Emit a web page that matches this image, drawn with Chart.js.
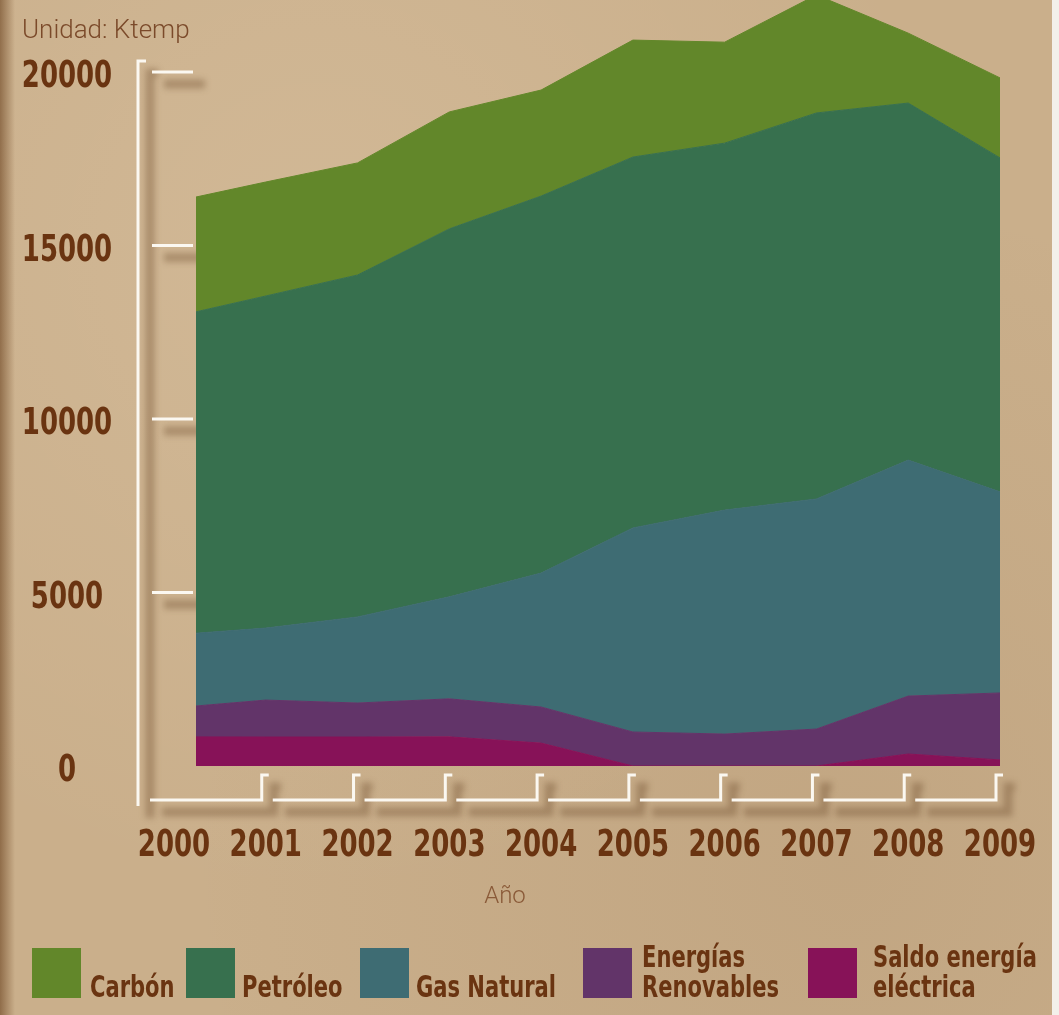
<!DOCTYPE html>
<html lang="es">
<head>
<meta charset="UTF-8">
<title>Consumo de energía primaria 2000-2009</title>
<style>
    html, body {
        margin: 0;
        padding: 0;
    }
    body {
        width: 1059px;
        height: 1015px;
        overflow: hidden;
        background-color: #caaf8b;
        background-image:
            linear-gradient(to right, rgba(105, 65, 30, 0.6) 0px, rgba(105, 65, 30, 0) 15px),
            radial-gradient(ellipse at 30% 25%, rgba(255, 240, 215, 0.14), rgba(0, 0, 0, 0) 60%),
            radial-gradient(ellipse at 80% 85%, rgba(120, 85, 50, 0.10), rgba(0, 0, 0, 0) 55%);
    }
    .wrap {
        position: relative;
        width: 1059px;
        height: 1015px;
    }
    canvas {
        position: absolute;
        left: 0;
        top: 0;
    }
    .edge {
        position: absolute;
        right: 0;
        top: 0;
        width: 7px;
        height: 100%;
        background: #f3f0ea;
    }
</style>
</head>
<body>
<div class="wrap">
    <canvas id="energyChart" width="1059" height="1015"></canvas>
    <div class="edge"></div>
</div>

<script src="https://cdn.jsdelivr.net/npm/chart.js"></script>
<script>
    // values in Ktep
    const years = [2000, 2001, 2002, 2003, 2004, 2005, 2006, 2007, 2008, 2009];
    const carbon = [3315, 3285, 3230, 3370, 3055, 3370, 2910, 3400, 2015, 2305];
    const petroleo = [9165, 9570, 9855, 10605, 10865, 10690, 10575, 11125, 10290, 9625];
    const gasNatural = [2105, 2075, 2480, 2940, 3860, 5880, 6455, 6630, 6800, 5795];
    const renovables = [835, 1065, 980, 1095, 1040, 980, 920, 1065, 1670, 1930];
    const saldoElectrico = [840, 835, 835, 840, 660, 0, 0, 0, 345, 175];
    const yTicks = [0, 5000, 10000, 15000, 20000];

    const seriesNames = ['Carbón', 'Petróleo', 'Gas Natural', 'Energías Renovables', 'Saldo energía eléctrica'];
    const legendLines = [['Carbón'], ['Petróleo'], ['Gas Natural'], ['Energías', 'Renovables'], ['Saldo energía', 'eléctrica']];
    const seriesColors = ['#62872a', '#37704e', '#3e6c73', '#623469', '#871258'];

    const BROWN = '#6a3411';
    const NARROW = "'DejaVu Sans Condensed', 'DejaVu Sans', sans-serif";

    // the original crops the areas a little after the 2000 mark,
    // and the 2007 peak runs past the 20000 line up to the top edge
    const xMin = 2000.24;
    const yMax = 22075;

    function series(idx, values, fill) {
        return {
            label: seriesNames[idx],
            data: values.map((v, i) => ({ x: years[i], y: v })),
            backgroundColor: seriesColors[idx],
            borderColor: seriesColors[idx],
            borderWidth: 1,
            pointRadius: 0,
            tension: 0,
            fill: fill
        };
    }

    // condensed bold text, squeezed sideways like the poster font
    function narrowText(ctx, text, x, y, size, align, squeeze) {
        ctx.save();
        ctx.font = 'bold ' + size + 'px ' + NARROW;
        ctx.textBaseline = 'alphabetic';
        ctx.textAlign = align;
        ctx.translate(x, y);
        ctx.scale(squeeze, 1);
        ctx.fillText(text, 0, 0);
        ctx.restore();
    }

    // white bracket axes with a soft shadow
    function strokeWithShadow(ctx, paths) {
        ctx.save();
        ctx.lineJoin = 'miter';
        ctx.lineCap = 'butt';
        ctx.filter = 'blur(3px)';
        ctx.strokeStyle = 'rgba(100, 65, 35, 0.35)';
        ctx.lineWidth = 9;
        paths.forEach(p => {
            ctx.beginPath();
            p.forEach((pt, i) => i ? ctx.lineTo(pt[0] + 12, pt[1] + 12) : ctx.moveTo(pt[0] + 12, pt[1] + 12));
            ctx.stroke();
        });
        ctx.filter = 'none';
        ctx.strokeStyle = '#fbf8f1';
        ctx.lineWidth = 3;
        paths.forEach(p => {
            ctx.beginPath();
            p.forEach((pt, i) => i ? ctx.lineTo(pt[0], pt[1]) : ctx.moveTo(pt[0], pt[1]));
            ctx.stroke();
        });
        ctx.restore();
    }

    const decorPlugin = {
        id: 'decor',
        beforeDraw(chart) {
            const { ctx, chartArea: a, scales } = chart;
            const xs = scales.x, ys = scales.y;
            const axisX = a.left - 58;
            const baseY = a.bottom + 34;
            const riseY = a.bottom + 9;
            const topY = ys.getPixelForValue(yTicks[yTicks.length - 1]) - 11;
            const paths = [];

            paths.push([[axisX + 8, topY], [axisX, topY], [axisX, baseY + 6]]);
            yTicks.filter(v => v > 0).forEach(v => {
                const py = ys.getPixelForValue(v);
                paths.push([[a.left - 44, py], [a.left - 3, py]]);
            });

            let start = axisX + 12;
            years.slice(1).forEach(yr => {
                const rx = xs.getPixelForValue(yr) - 4;
                paths.push([[start, baseY], [rx, baseY], [rx, riseY], [rx + 7, riseY]]);
                start = rx + 11;
            });
            strokeWithShadow(ctx, paths);

            ctx.save();
            ctx.fillStyle = BROWN;
            // tick labels
            yTicks.forEach(v => {
                narrowText(ctx, String(v), a.left - 129, ys.getPixelForValue(v) + 15, 38, 'center', 0.76);
            });
            years.forEach(yr => {
                narrowText(ctx, String(yr), xs.getPixelForValue(yr), a.bottom + 90, 38, 'center', 0.76);
            });

            ctx.fillStyle = '#7b4a2a';
            ctx.font = '300 26px Roboto';
            ctx.textBaseline = 'alphabetic';
            ctx.textAlign = 'left';
            ctx.fillText('Unidad: Ktemp', 22, 38);

            ctx.fillStyle = '#8a5a38';
            ctx.font = '300 24px Roboto';
            ctx.textAlign = 'center';
            ctx.fillText('Año', 505, 903);
            ctx.restore();
        },
        afterDraw(chart) {
            const { ctx } = chart;
            const boxX = [32, 186, 360, 583, 808];
            const textX = [90, 242, 416, 642, 873];
            const boxTop = 948, boxSize = 49, textBottom = 997;
            ctx.save();
            legendLines.forEach((lines, i) => {
                ctx.fillStyle = seriesColors[i];
                ctx.fillRect(boxX[i], boxTop, boxSize, boxSize + 1);
                ctx.fillStyle = BROWN;
                lines.forEach((t, j) => {
                    narrowText(ctx, t, textX[i], textBottom - (lines.length - 1 - j) * 30, 30, 'left', 0.78);
                });
            });
            ctx.restore();
        }
    };

    // stacked bottom-up: saldo, renovables, gas, petróleo, carbón
    const datasets = [
        series(4, saldoElectrico, 'origin'),
        series(3, renovables, '-1'),
        series(2, gasNatural, '-1'),
        series(1, petroleo, '-1'),
        series(0, carbon, '-1')
    ];

    new Chart(document.getElementById('energyChart'), {
        type: 'line',
        data: { datasets: datasets },
        plugins: [decorPlugin],
        options: {
            responsive: false,
            animation: false,
            devicePixelRatio: 1,
            layout: { padding: { left: 196, top: 0, right: 59, bottom: 249 } },
            plugins: {
                legend: { display: false },
                tooltip: { enabled: false }
            },
            scales: {
                x: {
                    type: 'linear',
                    display: false,
                    min: xMin,
                    max: years[years.length - 1]
                },
                y: {
                    display: false,
                    stacked: true,
                    min: 0,
                    max: yMax
                }
            }
        }
    });
</script>
</body>
</html>
